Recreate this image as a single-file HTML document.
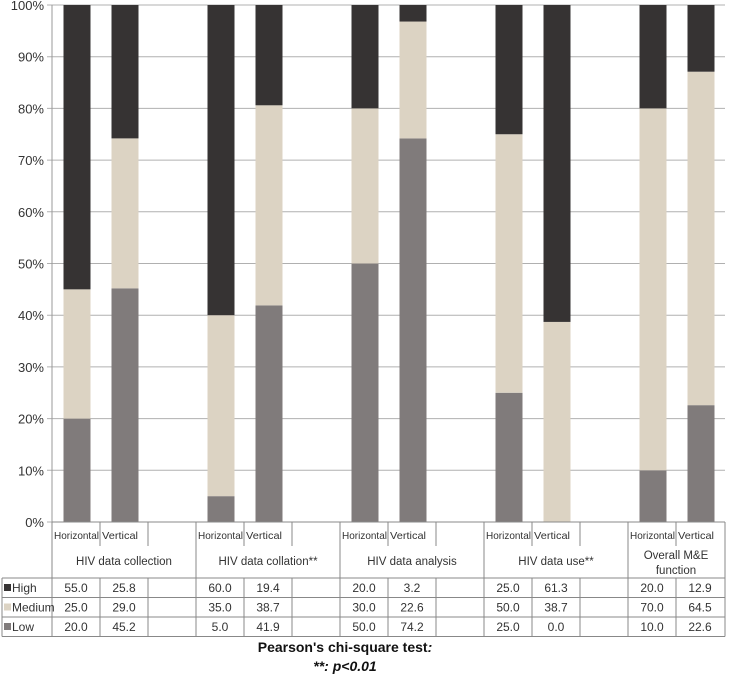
<!DOCTYPE html>
<html><head><meta charset="utf-8"><style>
body{margin:0;background:#fff;}
svg{display:block;font-family:"Liberation Sans",sans-serif;}
</style></head><body>
<svg id="c" width="731" height="677"></svg>
<script>
const groups=["HIV data collection","HIV data collation**","HIV data analysis","HIV data use**","Overall M&E|function"];
const subs=["Horizontal","Vertical"];
const high=[[55.0,25.8],[60.0,19.4],[20.0,3.2],[25.0,61.3],[20.0,12.9]];
const medium=[[25.0,29.0],[35.0,38.7],[30.0,22.6],[50.0,38.7],[70.0,64.5]];
const low=[[20.0,45.2],[5.0,41.9],[50.0,74.2],[25.0,0.0],[10.0,22.6]];
const yTicks=[0,10,20,30,40,50,60,70,80,90,100];
const C={high:"#363333",med:"#dcd3c3",low:"#807b7b"};
const svg=document.getElementById('c');const NS="http://www.w3.org/2000/svg";
function el(t,a,p){const e=document.createElementNS(NS,t);for(const k in a)e.setAttribute(k,a[k]);(p||svg).appendChild(e);return e;}
const x0=52,y0=522,yTop=5,slot=48,grpW=144,barW=27;
const y=v=>y0-(v/100)*(y0-yTop);
const slotX=(g,s)=>x0+g*grpW+s*slot;
const xEnd=725;
yTicks.forEach(t=>{
 const l=el('line',{x1:x0-5,x2:xEnd,y1:y(t),y2:y(t),stroke:"#b0b0b0","stroke-width":1});
 
 const tx=el('text',{x:44,y:y(t)+5,"text-anchor":"end","font-size":13,fill:"#333"});tx.textContent=t+"%";
 
});
el('line',{x1:x0,x2:x0,y1:yTop,y2:y0,stroke:"#999"});
groups.forEach((g,gi)=>{subs.forEach((s,si)=>{
 const cx=slotX(gi,si)+slot/2+1;const bx=cx-barW/2;
 let base=0;
 [[low,C.low,'low'],[medium,C.med,'medium'],[high,C.high,'high']].forEach(([arr,col,n])=>{
  const v=arr[gi][si];
  const r=el('rect',{x:bx,y:y(base+v),width:barW,height:y(base)-y(base+v),fill:col});
  
  base+=v;
 });
});});
const rTop=522,r1=546,r2=578,rowH=19.5;
const ln=(a,b,c,d)=>el('line',{x1:a,y1:b,x2:c,y2:d,stroke:"#888","stroke-width":1});
ln(x0,rTop,xEnd,rTop);
ln(2,r2,xEnd,r2);ln(2,r2+rowH*3,xEnd,r2+rowH*3);
for(let i=1;i<3;i++)ln(2,r2+rowH*i,xEnd,r2+rowH*i);
ln(2,r2,2,r2+rowH*3);ln(x0,rTop,x0,r2+rowH*3);ln(xEnd,rTop,xEnd,r2+rowH*3);
groups.forEach((g,gi)=>{
 const gx=x0+gi*grpW;
 if(gi>0)ln(gx,rTop,gx,r2+rowH*3);
 const ns=gi<4?3:2;
 for(let s=1;s<ns;s++){ln(gx+s*slot,rTop,gx+s*slot,r1);ln(gx+s*slot,r2,gx+s*slot,r2+rowH*3);}
 subs.forEach((s,si)=>{const t=el('text',{x:gx+si*slot+2,y:rTop+17,"font-size":10.5,fill:"#333",textLength:si==0?45:36,lengthAdjust:"spacingAndGlyphs"});t.textContent=s;
  });
 const w=gi<4?grpW:2*slot;
 const parts=g.split('|');
 parts.forEach((p,pi)=>{const t=el('text',{x:gx+w/2,y:(parts.length>1?r1+13+pi*15:r1+19),"text-anchor":"middle","font-size":11.5,fill:"#333"});t.textContent=p;
  });
 [high,medium,low].forEach((arr,ri)=>{subs.forEach((s,si)=>{
  const t=el('text',{x:gx+si*slot+slot/2,y:r2+rowH*ri+14,"text-anchor":"middle","font-size":12,fill:"#333"});
  t.textContent=arr[gi][si].toFixed(1);
  
 });});
});
[["High",C.high],["Medium",C.med],["Low",C.low]].forEach(([n,col],i)=>{
 const r=el('rect',{x:4,y:r2+rowH*i+6,width:7,height:7,fill:col});
 
 const t=el('text',{x:12,y:r2+rowH*i+14,"font-size":12,fill:"#333"});t.textContent=n;
 
});
const f1=el('text',{x:345,y:652,"text-anchor":"middle","font-size":14,"font-weight":"bold",fill:"#111"});
f1.innerHTML="Pearson's chi-square test<tspan font-style='italic'>:</tspan>";

const f2=el('text',{x:345,y:671,"text-anchor":"middle","font-size":14,"font-weight":"bold","font-style":"italic",fill:"#111"});
f2.textContent="**: p<0.01";

</script>
</body></html>
